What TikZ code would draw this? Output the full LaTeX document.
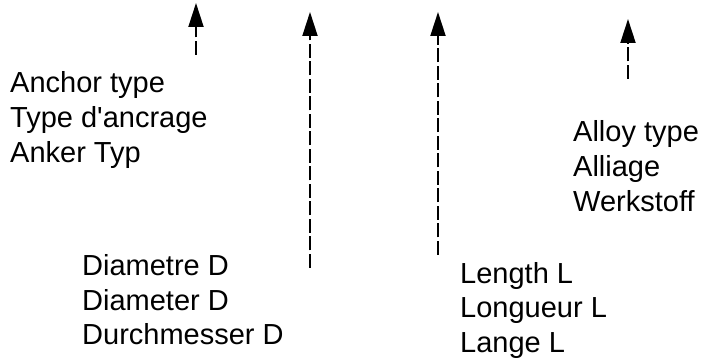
\documentclass[tikz,border=0pt]{standalone}
\usepackage{fontspec}
\newfontfamily\labelfont{Liberation Sans}
\usetikzlibrary{arrows.meta}

\begin{document}
\begin{tikzpicture}[x=1pt,y=-1pt,
        label node/.style={anchor=base west,align=left,inner sep=0pt,font=\labelfont\fontsize{29}{35}\selectfont},
        dim arrow/.style={line width=2pt,dash pattern=on 14pt off 3.5pt,-{Triangle[length=24pt,width=15pt]}},
        ]
    \useasboundingbox (0,0) rectangle (710,363);

    % base anchor sits on the last line
    \node[label node] (anchor) at (10,163) {Anchor type\\Type d'ancrage\\Anker Typ};
    \node[label node] (alloy) at (573,212) {Alloy type\\Alliage\\Werkstoff};
    \node[label node] (diam) at (82,345) {Diametre D\\Diameter D\\Durchmesser D};
    \node[label node] (len) at (460,353) {Length L\\Longueur L\\Lange L};

    \coordinate (a1) at (196,55);  \coordinate (b1) at (196,3);
    \coordinate (a2) at (310,268); \coordinate (b2) at (310,12);
    \coordinate (a3) at (438,255); \coordinate (b3) at (438,12);
    \coordinate (a4) at (628,79);  \coordinate (b4) at (628,19);

    \draw[dim arrow] (a1) -- (b1);
    \draw[dim arrow] (a2) -- (b2);
    \draw[dim arrow] (a3) -- (b3);
    \draw[dim arrow] (a4) -- (b4);
\end{tikzpicture}
\end{document}
